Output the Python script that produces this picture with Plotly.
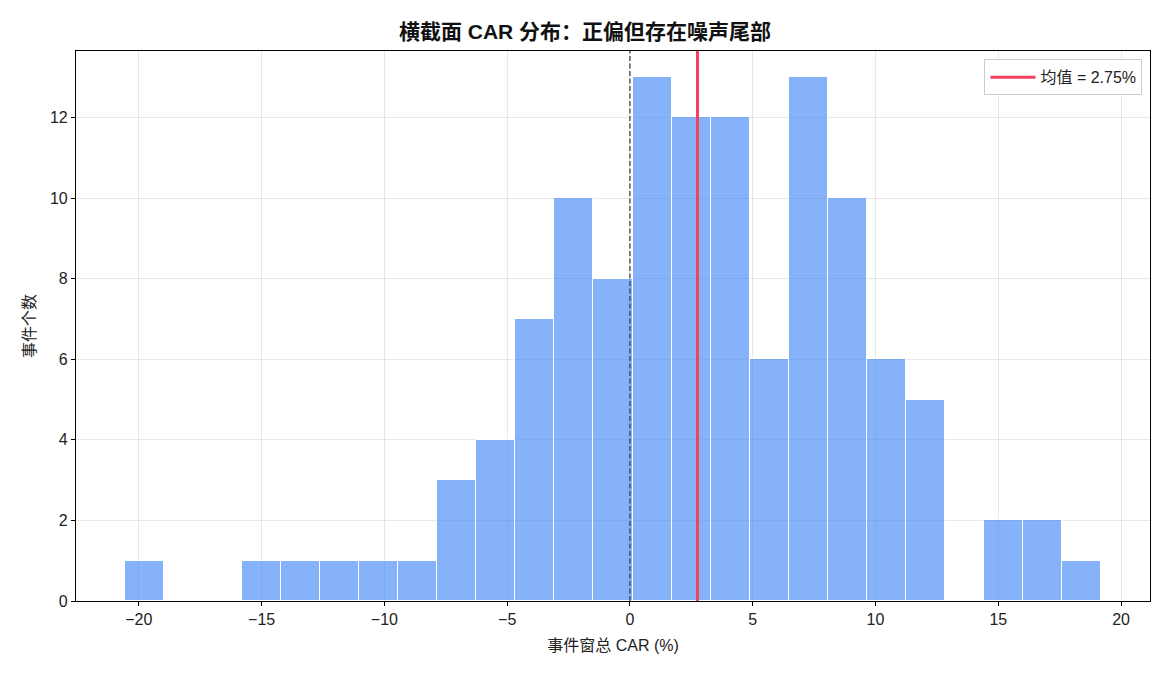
import plotly.graph_objects as go

# Data
bin_lo = -20.57
bin_hi = 19.19
counts = [1, 0, 0, 1, 1, 1, 1, 1, 3, 4, 7, 10, 8, 13, 12, 12, 6, 13, 10, 6, 5, 0, 2, 2, 1]
mean_car = 2.75
x_ticks = [-20, -15, -10, -5, 0, 5, 10, 15, 20]
y_ticks = [0, 2, 4, 6, 8, 10, 12]

n_bins = len(counts)
width = (bin_hi - bin_lo) / n_bins
edges = [bin_lo + i * width for i in range(n_bins + 1)]
centers = [(edges[i] + edges[i + 1]) / 2 for i in range(n_bins)]

FONT = "Liberation Sans, Noto Sans CJK SC, sans-serif"

fig = go.Figure()
fig.add_trace(go.Bar(
    x=centers, y=counts, width=[width] * n_bins,
    marker=dict(color="rgba(59,130,246,0.62)", line=dict(color="white", width=1)),
    showlegend=False, hoverinfo="x+y",
))
# legend entry for mean line
fig.add_trace(go.Scatter(
    x=[None], y=[None], mode="lines",
    line=dict(color="#f43f5e", width=3),
    name=f"均值 = {mean_car:.2f}%",
))

fig.add_shape(type="line", x0=0, x1=0, y0=0, y1=1, xref="x", yref="paper",
              line=dict(color="#444444", width=1.3, dash="5px,2.5px"))
fig.add_shape(type="line", x0=mean_car, x1=mean_car, y0=0, y1=1, xref="x", yref="paper",
              line=dict(color="#f43f5e", width=3))

span = bin_hi - bin_lo
fig.update_layout(
    width=1170, height=676,
    margin=dict(l=76, r=20, t=51, b=75),
    paper_bgcolor="white", plot_bgcolor="white",
    font=dict(family=FONT, size=16, color="#222222"),
    title=dict(text="<b>横截面 CAR 分布：正偏但存在噪声尾部</b>", x=0.5, xanchor="center",
               y=1 - 32 / 676, yanchor="middle", font=dict(size=21, color="#111111")),
    bargap=0,
    legend=dict(x=0.993, y=0.985, xanchor="right", yanchor="top",
                bgcolor="rgba(255,255,255,0.9)", bordercolor="#cccccc", borderwidth=1,
                itemwidth=45, font=dict(size=16)),
    xaxis=dict(
        range=[bin_lo - 0.05 * span, bin_hi + 0.05 * span],
        tickvals=x_ticks, ticks="outside", ticklen=4, tickcolor="black",
        showline=True, linecolor="black", linewidth=1.2, mirror=True,
        showgrid=True, gridcolor="rgba(0,0,0,0.09)", zeroline=False,
        tickfont=dict(size=16),
        title=dict(text="事件窗总 CAR (%)", standoff=12, font=dict(size=16)),
    ),
    yaxis=dict(
        range=[0, max(counts) * 1.05],
        tickvals=y_ticks, ticks="outside", ticklen=4, tickcolor="black",
        showline=True, linecolor="black", linewidth=1.2, mirror=True,
        showgrid=True, gridcolor="rgba(0,0,0,0.09)", zeroline=False,
        tickfont=dict(size=16),
        title=dict(text="事件个数", standoff=10, font=dict(size=16)),
    ),
)

fig.write_html("out.html")
